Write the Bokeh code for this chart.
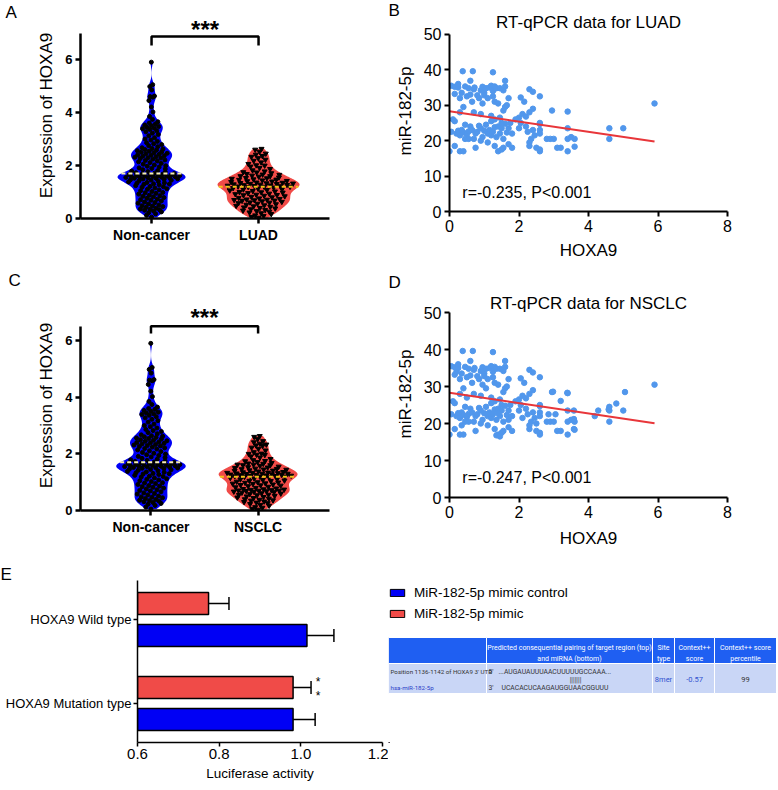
import numpy as np
from bokeh.plotting import figure
from bokeh.layouts import column, row
from bokeh.models import (Range1d, Label, Legend, LegendItem, Whisker, TeeHead,
                          ColumnDataSource, FixedTicker, NumeralTickFormatter)
from bokeh.core.properties import value
from bokeh.embed import file_html
from bokeh.resources import INLINE

FONT = "Liberation Sans"
NARROW = "Liberation Sans Narrow, Roboto, sans-serif"

# ---------------- data ----------------
groups_a = ["Non-cancer", "LUAD"]
groups_c = ["Non-cancer", "NSCLC"]

noncancer_expr = [
    0.05, 0.12, 0.18, 0.22, 0.25, 0.28, 0.31, 0.33, 0.35, 0.36, 0.39, 0.42, 0.45, 0.47, 0.48,
    0.51, 0.55, 0.58, 0.60, 0.62, 0.66, 0.69, 0.71, 0.73, 0.76, 0.79, 0.82, 0.84, 0.86, 0.88,
    0.92, 0.95, 0.97, 0.98, 1.02, 1.05, 1.08, 1.10, 1.12, 1.15, 1.18, 1.20, 1.21, 1.24, 1.27,
    1.29, 1.30, 1.31, 1.33, 1.35, 1.36, 1.38, 1.40, 1.42, 1.44, 1.45, 1.46, 1.48, 1.49,
    1.50, 1.51, 1.52, 1.53, 1.54, 1.55, 1.56, 1.57, 1.58, 1.59, 1.60, 1.60, 1.61, 1.62, 1.62,
    1.63, 1.64, 1.65, 1.66, 1.67, 1.68, 1.70, 1.71, 1.73, 1.75, 1.77, 1.79,
    1.81, 1.84, 1.87, 1.89, 1.91, 1.94, 1.97, 1.99, 2.02, 2.05, 2.08, 2.11, 2.14, 2.17, 2.19,
    2.21, 2.24, 2.26, 2.28, 2.29, 2.31, 2.33, 2.35, 2.37, 2.39, 2.40, 2.42, 2.44, 2.46, 2.48,
    2.50, 2.52, 2.54, 2.56, 2.58, 2.60, 2.62, 2.64, 2.67, 2.71, 2.75, 2.79, 2.82, 2.86, 2.91, 2.96,
    3.00, 3.05, 3.12, 3.17, 3.22, 3.27, 3.31, 3.36, 3.39, 3.41, 3.44, 3.47, 3.50, 3.53, 3.57,
    3.60, 3.65, 3.74, 3.85, 4.02, 4.21, 4.45, 4.58, 4.60, 4.62, 4.85, 4.98, 5.05, 5.90,
]

luad_expr = [
    0.03, 0.06, 0.10, 0.12, 0.17, 0.20, 0.23, 0.26, 0.28, 0.30, 0.32, 0.35, 0.38, 0.40, 0.42,
    0.44, 0.46, 0.48, 0.50, 0.52, 0.54, 0.56, 0.58, 0.60, 0.61, 0.63, 0.65, 0.67, 0.68, 0.69,
    0.70, 0.71, 0.72, 0.74, 0.76, 0.78, 0.80, 0.82, 0.84, 0.86, 0.88, 0.89, 0.90, 0.92, 0.94,
    0.96, 0.98, 0.99, 1.00, 1.02, 1.04, 1.06, 1.08, 1.10, 1.11, 1.13, 1.15, 1.17, 1.19,
    1.20, 1.20, 1.21, 1.22, 1.23, 1.24, 1.25, 1.26, 1.27, 1.28, 1.29, 1.30, 1.31, 1.32, 1.33,
    1.34, 1.35, 1.36, 1.38, 1.40, 1.41, 1.42, 1.44, 1.46, 1.47, 1.48, 1.50, 1.52, 1.53, 1.55,
    1.58, 1.60, 1.60, 1.62, 1.65, 1.66, 1.68, 1.71, 1.74, 1.75, 1.78, 1.82, 1.87, 1.91, 1.96,
    2.00, 2.01, 2.06, 2.12, 2.18, 2.22, 2.28, 2.33, 2.36, 2.41, 2.45, 2.52, 2.60, 2.63,
]

nsclc_expr = luad_expr + [
    0.66, 0.70, 0.73, 0.75, 1.22, 1.26, 1.30, 1.33, 0.95, 1.45, 1.97, 0.36, 1.05, 0.55, 1.62, 2.30,
]

luad_hoxa9 = [
    0.05, 0.15, 0.25, 0.35, 0.45, 0.5, 0.55, 0.6, 0.7, 0.72, 0.8, 0.9, 0.95, 1.0, 1.05, 1.15,
    1.2, 1.25, 1.3, 1.35, 1.45, 1.55, 1.6, 1.25, 1.0, 0.15, 0.3, 0.65, 0.4, 1.3, 1.4, 1.6,
    1.65, 0.95, 1.1, 0.85, 0.25, 0.6, 1.6, 0.38, 0.67, 1.25,
    0.1, 0.3, 0.7, 0.9, 1.2, 1.3, 1.45, 1.55, 2.1, 2.3, 2.4, 2.95, 3.4, 2.0, 2.2, 1.9, 1.75, 2.6,
    2.05, 2.3, 2.4, 2.6, 1.7, 2.15,
    0.05, 0.2, 0.25, 0.3, 0.35, 0.4, 0.45, 0.5, 0.55, 0.6, 0.65, 0.7, 0.75, 0.8, 0.85, 0.9,
    0.95, 1.0, 1.05, 1.1, 1.15, 1.2, 1.25, 1.3, 1.35, 1.4, 1.45, 1.5, 1.55, 1.6, 1.65, 1.7,
    1.8, 2.0, 2.05, 2.2, 2.25, 2.35, 2.4, 2.45, 2.6, 2.6, 2.6, 0.15, 0.45, 1.2, 1.5,
    0.0, 0.15, 0.3, 0.4, 0.55, 0.75, 0.9, 1.1, 1.3, 1.4, 1.5, 1.55, 1.7, 1.8, 2.3, 2.3, 2.6, 2.6,
    2.8, 2.9, 3.0, 3.1, 3.2, 3.4, 3.4, 3.4, 3.5, 3.6, 3.6, 2.5, 4.6, 4.6, 5.0, 5.9,
]
luad_mir = [
    35.5, 35.2, 35.0, 33.5, 35.3, 32.5, 34.8, 33.0, 34.5, 35.0, 32.8, 34.2, 35.2, 33.5, 34.8, 35.0,
    35.5, 34.0, 35.3, 34.8, 34.8, 34.2, 35.3, 32.5, 32.8, 33.2, 32.0, 31.0, 29.5, 31.0, 30.5, 29.5,
    30.0, 30.5, 32.0, 32.0, 36.0, 36.9, 36.9, 39.6, 39.6, 39.3,
    26.0, 28.0, 28.0, 27.5, 27.0, 26.0, 26.5, 28.5, 27.5, 28.0, 29.0, 28.5, 28.2, 26.5, 26.8, 26.0, 25.0, 24.7,
    32.2, 34.5, 33.8, 32.5, 32.0, 31.0,
    22.5, 22.0, 22.8, 21.5, 23.0, 22.3, 20.5, 21.8, 22.6, 24.0, 23.0, 20.5, 22.0, 22.5, 24.2, 23.5,
    21.0, 22.8, 24.5, 22.0, 23.0, 21.5, 22.5, 23.8, 21.0, 24.0, 22.0, 23.5, 20.5, 24.8, 22.3, 23.5,
    22.0, 23.5, 25.0, 24.0, 22.5, 20.5, 23.0, 21.5, 23.0, 25.0, 22.0, 25.5, 24.5, 25.5, 25.0,
    17.0, 18.5, 17.0, 17.0, 20.5, 18.0, 20.0, 19.5, 18.5, 17.0, 17.5, 18.0, 19.0, 18.0, 18.5, 19.5, 17.0, 17.5,
    20.5, 20.5, 20.5, 18.0, 18.0, 17.0, 23.5, 20.5, 21.0, 20.5, 18.3, 18.0, 23.5, 20.5, 23.5, 30.5,
]
nsclc_extra_hoxa9 = [5.05, 4.8, 4.6, 4.58, 4.28, 4.18, 3.39, 3.2, 2.98, 3.58, 3.58, 3.58,
                     0.2, 0.5, 1.05, 1.4, 1.7, 2.1, 2.5, 0.35, 1.35, 1.45, 2.85, 3.05]
nsclc_extra_mir = [28.5, 25.4, 24.5, 23.8, 23.5, 22.0, 28.3, 26.1, 28.6, 23.5, 21.2, 18.5,
                   34.0, 27.0, 29.5, 22.8, 21.0, 21.5, 20.0, 19.5, 16.8, 16.5, 22.5, 22.5]
nsclc_hoxa9 = luad_hoxa9 + nsclc_extra_hoxa9
nsclc_mir = luad_mir + nsclc_extra_mir

luad_fit = (28.3, -1.45)     # intercept, slope
nsclc_fit = (28.3, -1.40)
luad_stat = "r=-0.235, P<0.001"
nsclc_stat = "r=-0.247, P<0.001"

luc_groups = ["HOXA9 Mutation type", "HOXA9 Wild type"]
luc_series = ["MiR-182-5p mimic control", "MiR-182-5p mimic"]
ctrl_mean = [0.981, 1.015]
ctrl_sd = [0.054, 0.066]
mimic_mean = [0.981, 0.774]
mimic_sd = [0.044, 0.050]

table_header = [["", ""],
                ["Predicted consequential pairing of target region (top)", "and miRNA (bottom)"],
                ["Site", "type"], ["Context++", "score"], ["Context++ score", "percentile"]]
table_row_site = ["Position 1136-1142 of HOXA9 3' UTR", "hsa-miR-182-5p"]
table_row_pair = ["5'", "...AUGAUAUUUAACUUUUUGCCAAA...", "|||||||", "3'", "UCACACUCAAGAUGGUAACGGUUU"]
table_row_vals = ["8mer", "-0.57", "99"]

BLUE = "#0000f5"
RED = "#f04b48"
PTBLUE = "#5197ec"


def kde(vals, bw, grid):
    v = np.asarray(vals, float)
    d = np.exp(-0.5 * ((grid[:, None] - v[None, :]) / bw) ** 2).sum(axis=1)
    return d / d.max()


def spread(vals, grid, hw, fill=0.85):
    # deterministic golden-ratio spreading of the points across the violin width
    ys = sorted(vals)
    xs = []
    for k, y in enumerate(ys):
        u = (k * 0.6180339887 + 0.5) % 1.0
        xs.append((2 * u - 1) * fill * float(np.interp(y, grid, hw)))
    return xs, ys


def letter(p, txt, cx, cy, side="right"):
    # panel letter in canvas pixels, kept in a side panel so that it is not clipped to the frame
    p.add_layout(Label(x=cx, y=cy, x_units="canvas", y_units="canvas", text=txt,
                       text_font=FONT, text_font_size="17px", text_baseline="top",
                       text_align="left", text_color="black"), side)


def style_axis(ax, lw, fs, bold, tick_out):
    ax.axis_line_width = lw
    ax.axis_line_color = "black"
    ax.major_tick_line_width = lw
    ax.major_tick_line_color = "black"
    ax.major_tick_out = tick_out
    ax.major_tick_in = 0
    ax.minor_tick_out = 0
    ax.minor_tick_in = 0
    ax.major_label_text_font = FONT
    ax.major_label_text_font_size = fs
    ax.major_label_text_font_style = "bold" if bold else "normal"
    ax.major_label_standoff = 3
    ax.major_label_text_color = "black"
    ax.axis_label_text_font = FONT
    ax.axis_label_text_font_style = "normal"
    ax.axis_label_text_color = "black"


def violin_fig(groups, sets, ux, x0, uy, width, height, bl, br, bt, bb,
               y_bound, bracket_y, star_y, halfw_px, ltr, ltr_xy):
    fw, fh = width - bl - br, height - bt - bb
    p = figure(width=width, height=height, x_range=Range1d(x0, x0 + fw / ux),
               y_range=Range1d(0, fh / uy), output_backend="svg", toolbar_location=None,
               min_border_left=bl, min_border_right=br, min_border_top=bt, min_border_bottom=bb)
    p.outline_line_color = None
    p.grid.visible = False
    fills = [BLUE, RED]
    markers = ["circle", "inverted_triangle"]
    msizes = [4, 5]
    med_colors = ["#f6eeb4", "#f3c419"]
    for i, vals in enumerate(sets):
        c = i + 1
        v = np.asarray(vals, float)
        grid = np.linspace(v.min(), v.max(), 200)
        dens = kde(v, 0.16, grid)
        hw = halfw_px[i] / ux * dens
        p.harea(x1=c - hw, x2=c + hw, y=grid, fill_color=fills[i])
        xs, ys = spread(list(vals), grid, hw)
        p.scatter([c + x for x in xs], ys, marker=markers[i], size=msizes[i],
                  fill_color="black", line_color="black")
        med = float(np.median(v))
        w = halfw_px[i] / ux * float(np.interp(med, grid, dens))
        p.line([c - w, c + w], [med, med], line_dash="4 3", line_color=med_colors[i], line_width=2)
    p.line([1, 1, 2, 2], [bracket_y[0], bracket_y[1], bracket_y[1], bracket_y[0]],
           line_color="black", line_width=2.5)
    p.text(x=[1.5], y=[star_y], text=["***"], text_align="center", text_baseline="middle",
           text_font=value(FONT), text_font_style="bold", text_font_size="24px", text_color="black")
    ya = p.yaxis[0]
    ya.ticker = FixedTicker(ticks=[0, 2, 4, 6])
    ya.bounds = (0, y_bound)
    ya.axis_label = "Expression of HOXA9"
    xa = p.xaxis[0]
    xa.ticker = FixedTicker(ticks=[1, 2])
    xa.major_label_overrides = {1: groups[0], 2: groups[1]}
    style_axis(ya, 2.5, "13px", True, 5)
    style_axis(xa, 2.5, "14px", True, 5)
    ya.axis_label_text_font_size = "17px"
    ya.axis_label_standoff = 6
    letter(p, ltr, *ltr_xy)
    return p


def scatter_fig(xs, ys, fit, stat, stat_y, title, title_y, ltr, ltr_xy,
                width, height, bl, br, bt, bb, uy, xlab_standoff):
    fw, fh = width - bl - br, height - bt - bb
    p = figure(width=width, height=height, x_range=Range1d(0, 8), y_range=Range1d(0, fh / uy),
               output_backend="svg", toolbar_location=None, min_border_left=bl,
               min_border_right=br, min_border_top=bt, min_border_bottom=bb)
    p.outline_line_color = None
    p.grid.visible = False
    p.scatter(xs, ys, size=5.5, fill_color=PTBLUE, line_color=PTBLUE)
    xa0, xa1 = min(xs), max(xs)
    p.line([xa0, xa1], [fit[0] + fit[1] * xa0, fit[0] + fit[1] * xa1], line_color="#e8363a", line_width=2)
    p.text(x=[0.37], y=[stat_y], text=[stat], text_align="left", text_baseline="middle",
           text_font=value(FONT), text_font_size="16px", text_color="black")
    p.text(x=[4], y=[title_y], text=[title], text_align="center", text_baseline="middle",
           text_font=value(FONT), text_font_size="17px", text_color="black")
    p.xaxis.ticker = FixedTicker(ticks=[0, 2, 4, 6, 8])
    p.yaxis.ticker = FixedTicker(ticks=[0, 10, 20, 30, 40, 50])
    p.yaxis.bounds = (0, 50)
    p.xaxis.axis_label = "HOXA9"
    p.yaxis.axis_label = "miR-182-5p"
    for ax in (p.xaxis[0], p.yaxis[0]):
        style_axis(ax, 2, "16px", False, 5)
        ax.axis_label_text_font_size = "17px"
    p.xaxis.axis_label_standoff = xlab_standoff
    p.yaxis.axis_label_standoff = 6
    letter(p, ltr, *ltr_xy)
    return p


# ---------------- panels (page pixel geometry) ----------------
WL, WR = 388, 388
H1, H2, H3 = 262, 293, 234

pa = violin_fig(groups_a, [noncancer_expr, luad_expr], 107, 0.336, 26.5, WL, H1, 80, 59, 12, 44,
                7.0, (6.53, 6.87), 7.13, [34, 41], "A", (5, 2))
pb = scatter_fig(luad_hoxa9, luad_mir, luad_fit, luad_stat, 5.3, "RT-qPCR data for LUAD", 53.4,
                 "B", (0, 0), WR, H1, 61, 49, 10, 50, 3.56, 6)
pc = violin_fig(groups_c, [noncancer_expr, nsclc_expr], 114, 0.342, 28.33, WL, H2, 77, 46, 38, 45,
                6.5, (6.25, 6.5), 6.81, [37, 42], "C", (8, 8))
pd = scatter_fig(nsclc_hoxa9, nsclc_mir, nsclc_fit, nsclc_stat, 5.5, "RT-qPCR data for NSCLC", 52.4,
                 "D", (0, 10), WR, H2, 61, 49, 28, 58, 3.7, 8)

# ---- panel E ----
E_BT, E_BB = 25, 47
pe = figure(width=WL, height=H3, x_range=Range1d(0.6, 1.2), y_range=Range1d(-0.464, 1.464),
            output_backend="svg", toolbar_location=None, min_border_left=137,
            min_border_right=6, min_border_top=E_BT, min_border_bottom=E_BB)
pe.outline_line_color = None
pe.grid.visible = False
pos = np.arange(len(luc_groups), dtype=float)
off = 0.19
bar_h = 0.262
ctrl_src = ColumnDataSource(dict(y=pos - off, m=ctrl_mean, up=np.add(ctrl_mean, ctrl_sd)))
mim_src = ColumnDataSource(dict(y=pos + off, m=mimic_mean, up=np.add(mimic_mean, mimic_sd)))
pe.hbar(y="y", left=0.6, right="m", height=bar_h, source=ctrl_src, fill_color=BLUE,
        line_color="black", line_width=1.5)
pe.hbar(y="y", left=0.6, right="m", height=bar_h, source=mim_src, fill_color=RED,
        line_color="black", line_width=1.5)
for src in (ctrl_src, mim_src):
    pe.add_layout(Whisker(source=src, base="y", lower="m", upper="up", dimension="width",
                          line_width=1.5, line_color="black", lower_head=None,
                          upper_head=TeeHead(size=13, line_width=1.5, line_color="black")))
star_x = mimic_mean[0] + mimic_sd[0] + 0.017
pe.text(x=[star_x, star_x], y=[pos[0] + 0.26, pos[0] + 0.095], text=["*", "*"],
        text_align="center", text_baseline="middle", text_font=value(FONT),
        text_font_size="12px", text_color="black")
pe.xaxis.ticker = FixedTicker(ticks=[0.6, 0.8, 1.0, 1.2])
pe.xaxis.formatter = NumeralTickFormatter(format="0.0")
pe.xaxis.axis_label = "Luciferase activity"
pe.yaxis.ticker = FixedTicker(ticks=list(pos))
pe.yaxis.major_label_overrides = {0: luc_groups[0], 1: luc_groups[1]}
style_axis(pe.xaxis[0], 1.5, "15px", False, 4)
style_axis(pe.yaxis[0], 1.5, "13px", False, 4)
pe.xaxis.major_label_standoff = 2
pe.yaxis.major_label_standoff = 2
pe.xaxis.axis_label_text_font_size = "13.5px"
pe.xaxis.axis_label_standoff = 4
letter(pe, "E", 0, 9, side="above")

# ---- legend + table panel (page-pixel data coordinates) ----
T_X0 = WL
T_YB, T_YT = 555 + H3 - E_BB, 555 + E_BT
pt = figure(width=WR, height=H3, x_range=Range1d(T_X0, T_X0 + WR), y_range=Range1d(T_YB, T_YT),
            output_backend="svg", toolbar_location=None,
            min_border_left=0, min_border_right=0, min_border_top=E_BT, min_border_bottom=E_BB)
pt.axis.visible = False
pt.grid.visible = False
pt.outline_line_color = None
# legend proxies: one off-screen bar per series, so that the legend can draw its swatches
lb = pt.hbar(y=[T_YB + 500], left=[T_X0], right=[T_X0 + 1], height=1, fill_color=BLUE,
             line_color="black", line_width=1)
lr = pt.hbar(y=[T_YB + 500], left=[T_X0], right=[T_X0 + 1], height=1, fill_color=RED,
             line_color="black", line_width=1)
leg = Legend(items=[LegendItem(label=luc_series[0], renderers=[lb]),
                    LegendItem(label=luc_series[1], renderers=[lr])],
             location=(0, T_YB - 621), glyph_width=18, glyph_height=9,
             label_height=16, spacing=5, padding=0, margin=0, border_line_color=None,
             background_fill_alpha=0, label_text_font=FONT, label_text_font_size="13.5px",
             label_text_color="black", label_standoff=8)
pt.add_layout(leg)

col_edges = [T_X0, 486, 652, 674, 714, T_X0 + WR]
head_top, head_bot, body_bot = 637, 663, 693
lefts, rights = col_edges[:-1], col_edges[1:]
pt.quad(left=lefts, right=rights, top=[head_top] * 5, bottom=[head_bot] * 5,
        fill_color="#1f5ff2", line_color="white", line_width=1)
pt.quad(left=lefts, right=rights, top=[head_bot] * 5, bottom=[body_bot] * 5,
        fill_color="#c9d6f6", line_color="white", line_width=1)
centers = [(a + b) / 2 for a, b in zip(lefts, rights)]
hx, hy, ht = [], [], []
for c, lines in zip(centers, table_header):
    for k, t in enumerate(lines):
        if t:
            hx.append(c); hy.append(647 + 11 * k); ht.append(t)
pt.text(x=hx, y=hy, text=ht, text_align="center", text_baseline="middle",
        text_font=value(NARROW), text_font_size="7px", text_color="white")
pt.text(x=[T_X0 + 2, T_X0 + 2], y=[671, 687], text=table_row_site, text_align="left",
        text_baseline="middle", text_font=value(NARROW), text_font_size="6.2px",
        text_color=["#333333", "#2b40c8"])
pt.text(x=[488, 498, 575, 488, 501], y=[671, 671, 679, 687, 687], text=table_row_pair,
        text_align=["left", "left", "center", "left", "left"], text_baseline="middle",
        text_font=value(NARROW), text_font_size="6.8px", text_color="#333333")
pt.text(x=centers[2:], y=[679] * 3, text=table_row_vals, text_align="center",
        text_baseline="middle", text_font=value(NARROW), text_font_size="7.5px",
        text_color=["#3152cf", "#3152cf", "#333333"])

layout = column(row(column(pa, pc), column(pb, pd)), row(pe, pt))
open("out.html", "w").write(file_html(layout, INLINE))
